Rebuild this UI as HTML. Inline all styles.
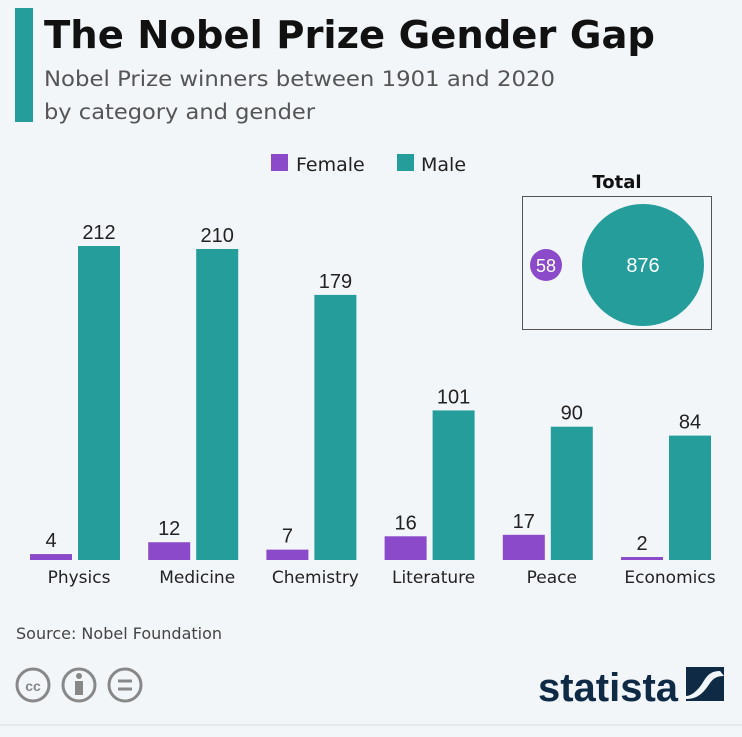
<!DOCTYPE html>
<html><head><meta charset="utf-8"><style>
body{margin:0;width:742px;height:737px;background:#f2f6f9;font-family:"Liberation Sans",sans-serif;overflow:hidden;position:relative}
.t{position:absolute}
</style></head><body>
<div class="t" style="left:15px;top:8px;width:18px;height:114px;background:#259e9b"></div>
<svg class="t" style="left:0;top:0" width="742" height="737" id="svg">
<text x="44" y="48" font-family="DejaVu Sans" font-size="38" font-weight="bold" fill="#111" textLength="611" lengthAdjust="spacingAndGlyphs">The Nobel Prize Gender Gap</text>
<text x="44" y="86" font-family="DejaVu Sans" font-size="21" fill="#555" textLength="511" lengthAdjust="spacingAndGlyphs">Nobel Prize winners between 1901 and 2020</text>
<text x="44" y="119" font-family="DejaVu Sans" font-size="21" fill="#555" textLength="271" lengthAdjust="spacingAndGlyphs">by category and gender</text>
<g font-family="DejaVu Sans">
<rect x="271" y="154" width="17" height="17" fill="#8b4ac9"/>
<text x="296" y="171" font-size="19" fill="#222">Female</text>
<rect x="397" y="154" width="17" height="17" fill="#259e9b"/>
<text x="421" y="171" font-size="19" fill="#222">Male</text>
</g>
<g>
<text x="617" y="188" font-family="DejaVu Sans" font-size="18" font-weight="bold" text-anchor="middle" fill="#111">Total</text>
<rect x="522.5" y="196.5" width="189" height="133" fill="none" stroke="#555"/>
<circle cx="546" cy="265" r="16" fill="#8b4ac9"/>
<text x="546" y="272" font-size="18" fill="#fff" text-anchor="middle">58</text>
<circle cx="643" cy="265" r="61" fill="#259e9b"/>
<text x="643" y="272" font-size="20" fill="#fff" text-anchor="middle">876</text>
</g>
<g id="bars"></g>
<text x="16" y="639" font-family="DejaVu Sans" font-size="16" fill="#444">Source: Nobel Foundation</text>
<g fill="none" stroke="#888" stroke-width="3">
<circle cx="33" cy="685" r="16"/><circle cx="79" cy="685" r="16"/><circle cx="125" cy="685" r="16"/>
<text x="33" y="691" font-size="14" font-weight="bold" fill="#888" stroke="none" text-anchor="middle">cc</text>
<circle cx="79" cy="676" r="3" fill="#888" stroke="none"/><rect x="75" y="681" width="8" height="14" fill="#888" stroke="none"/>
<line x1="118" y1="681" x2="132" y2="681"/><line x1="118" y1="689" x2="132" y2="689"/>
</g>
<text x="538" y="701" font-size="40" font-weight="bold" fill="#0f2a45" textLength="140" lengthAdjust="spacingAndGlyphs">statista</text>
<g>
<rect x="686" y="667" width="38" height="34" fill="#0f2a45"/>
<path d="M720 671 C705 671 705 683 697 690 C694 693 690 696 686 696 L686 699 C700 699 705 690 710 683 C713 679 716 676 724 676 Z" fill="#f2f6f9"/>
</g>
</svg>
<div class="t" style="left:0;top:724px;width:742px;height:2px;background:#e4e9ee"></div>
<script>
const categories=["Physics","Medicine","Chemistry","Literature","Peace","Economics"];
const female=[4,12,7,16,17,2];
const male=[212,210,179,101,90,84];
const base=560, scale=1.481, x0=30, step=118.2, bw=42;
const y=v=>base-v*scale;
const g=document.getElementById('bars');
const NS='http://www.w3.org/2000/svg';
function mk(t,a){const e=document.createElementNS(NS,t);for(const k in a)e.setAttribute(k,a[k]);g.appendChild(e);return e;}
categories.forEach((c,i)=>{
 const fx=x0+i*step, mx=fx+48;
 let r=mk('rect',{x:fx,y:y(female[i]),width:bw,height:female[i]*scale,fill:'#8b4ac9'});
 
 
 r=mk('rect',{x:mx,y:y(male[i]),width:bw,height:male[i]*scale,fill:'#259e9b'});
 
 
 let t=mk('text',{x:fx+bw/2,y:y(female[i])-7,'font-size':20,'text-anchor':'middle',fill:'#222'});t.textContent=female[i];
 
 
 t=mk('text',{x:mx+bw/2,y:y(male[i])-7,'font-size':20,'text-anchor':'middle',fill:'#222'});t.textContent=male[i];
 
 
 t=mk('text',{x:fx+49,y:583,'font-size':17,'font-family':'DejaVu Sans','text-anchor':'middle',fill:'#222'});t.textContent=c;
 
 
});
</script>
</body></html>
